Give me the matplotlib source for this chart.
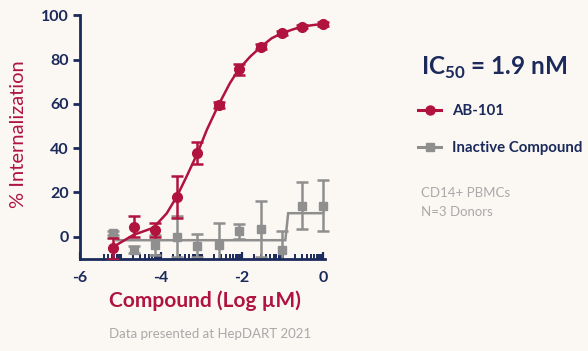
import numpy as np
import matplotlib
matplotlib.use("Agg")
import matplotlib.pyplot as plt
from matplotlib.ticker import FixedLocator
from matplotlib.lines import Line2D

# ---------------- data ----------------
ab_x = [-5.18, -4.67, -4.16, -3.61, -3.10, -2.58, -2.08, -1.53, -1.02, -0.52, 0.0]
ab_y = [-5.3, 4.5, 3.0, 18.1, 37.7, 59.5, 75.6, 85.8, 91.9, 94.9, 96.1]
ab_err = [4.6, 4.7, 3.3, 9.5, 5.0, 1.5, 2.5, 1.2, 1.0, 0.8, 0.8]

ab_fit_x = [-5.14, -4.68, -4.19, -3.86, -3.61, -3.37, -3.10, -2.87, -2.58, -2.30,
            -2.08, -1.80, -1.53, -1.27, -1.02, -0.73, -0.52, -0.24, 0.0]
ab_fit_y = [-4.2, 0.8, 4.0, 10.5, 18.1, 27.1, 37.7, 48.2, 59.5, 69.3,
            75.6, 81.3, 85.8, 89.6, 91.9, 93.7, 94.9, 95.6, 96.1]

ina_x = [-5.18, -4.67, -4.16, -3.61, -3.10, -2.58, -2.08, -1.53, -1.02, -0.52, 0.0]
ina_y = [1.7, -6.0, -3.6, 0.0, -4.0, -3.6, 2.4, 3.5, -6.0, 14.0, 14.0]
ina_err = [1.0, 1.6, 4.5, 9.3, 5.0, 9.8, 3.5, 12.5, 8.5, 10.5, 11.5]

ina_fit_x = [-5.10, -0.93, -0.86, 0.0]
ina_fit_y = [-1.6, -1.6, 10.6, 10.6]

x_major = [-6, -4, -2, 0]
y_major = [0, 20, 40, 60, 80, 100]
series_labels = ["AB-101", "Inactive Compound"]

# ---------------- style ----------------
BG = "#fbf8f4"
RED = "#b0143e"
NAVY = "#1b2a5a"
GRAY = "#8f8f8f"
LGRAY = "#a9a9a9"
FONT = "Lato"

plt.rcParams["font.family"] = [FONT, "DejaVu Sans"]
plt.rcParams["axes.unicode_minus"] = False
plt.rcParams["mathtext.fontset"] = "custom"
plt.rcParams["mathtext.rm"] = FONT
plt.rcParams["mathtext.bf"] = FONT + ":bold"

W, H = 588, 351
fig = plt.figure(figsize=(W / 100, H / 100), dpi=100, facecolor=BG)

# axes: x=-6 at px 80, x=0 at px 323 ; y=100 at px 15.3, y=-10 at px 258.8
px_per_x = (323 - 80) / 6.0
xmax = 0.3
ax_left = 80
ax_right = 323 + xmax * px_per_x
y_top = 15.3
y_bot = 258.8
ax = fig.add_axes([ax_left / W, 1 - y_bot / H, (ax_right - ax_left) / W, (y_bot - y_top) / H])
ax.set_facecolor("none")
ax.set_xlim(-6, xmax)
ax.set_ylim(-10, 100)

for s in ["top", "right"]:
    ax.spines[s].set_visible(False)
for s in ["left", "bottom"]:
    ax.spines[s].set_color(NAVY)
    ax.spines[s].set_linewidth(2.0)
ax.spines["bottom"].set_bounds(-6, 0.04)

# inactive compound (drawn first, behind)
ax.errorbar(ina_x, ina_y, yerr=ina_err, fmt="s", color=GRAY, ms=6.2,
            elinewidth=1.8, capsize=4.5, capthick=1.8, zorder=2)
ax.plot(ina_fit_x, ina_fit_y, color=GRAY, lw=1.8, zorder=2, solid_joinstyle="miter")

# AB-101
ax.errorbar(ab_x, ab_y, yerr=ab_err, fmt="o", color=RED, ms=7,
            elinewidth=1.8, capsize=4.5, capthick=1.8, zorder=4)
ax.plot(ab_fit_x, ab_fit_y, color=RED, lw=1.8, zorder=4)

# ticks
ax.yaxis.set_major_locator(FixedLocator(y_major))
ax.tick_params(axis="y", which="major", direction="out", length=5, width=2,
               color=NAVY, labelcolor=NAVY, labelsize=11.5, pad=3)
ax.xaxis.set_major_locator(FixedLocator(x_major))
minor = []
for d in range(-6, 0):
    for k in range(1, 10):
        v = d + np.log10(k)
        if v > -5.45 and v not in x_major:
            minor.append(v)
ax.xaxis.set_minor_locator(FixedLocator(minor))
ax.tick_params(axis="x", which="major", direction="in", length=5, width=1.6,
               color=NAVY, labelcolor=NAVY, labelsize=11.5, pad=9)
ax.tick_params(axis="x", which="minor", direction="in", length=3.5, width=1.4,
               color=NAVY)
for lab in ax.get_xticklabels() + ax.get_yticklabels():
    lab.set_fontweight("bold")

# axis titles
fig.text(205 / W, 1 - 301 / H, "Compound (Log µM)", color=RED, fontsize=15,
         fontweight="bold", ha="center", va="center")
fig.text(19 / W, 1 - 134 / H, "% Internalization", color=RED, fontsize=14.5,
         rotation=90, ha="center", va="center")
fig.text(210 / W, 1 - 334 / H, "Data presented at HepDART 2021", color=LGRAY,
         fontsize=9.5, ha="center", va="center")

# right panel
fig.text(421 / W, 1 - 75 / H, r"IC$_{\mathbf{50}}$ = 1.9 nM", color=NAVY,
         fontsize=17.5, fontweight="bold", ha="left", va="baseline")

h_ab = Line2D([], [], color=RED, lw=2.2, marker="o", ms=6.5)
h_ina = Line2D([], [], color=GRAY, lw=2.2, marker="s", ms=6)
leg = fig.legend(handles=[h_ab, h_ina], labels=series_labels,
                 loc="upper left", bbox_to_anchor=(418 / W, 1 - 104 / H),
                 frameon=False, fontsize=10.8, handlelength=1.55,
                 handletextpad=0.75, labelspacing=1.55, borderpad=0, borderaxespad=0)
for t in leg.get_texts():
    t.set_color(NAVY)
    t.set_fontweight("bold")

fig.text(421 / W, 1 - 193 / H, "CD14+ PBMCs", color=LGRAY, fontsize=9.5,
         ha="left", va="center")
fig.text(421 / W, 1 - 212 / H, "N=3 Donors", color=LGRAY, fontsize=9.5,
         ha="left", va="center")

fig.savefig("out.png", dpi=100, facecolor=BG)
